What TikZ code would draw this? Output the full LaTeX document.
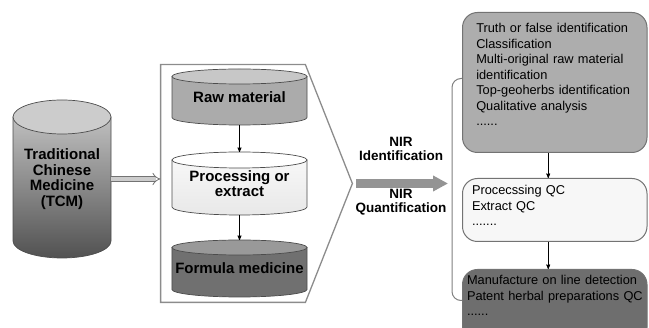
\documentclass[tikz,border=0pt]{standalone}
\usepackage{fontspec}
\setmainfont{Liberation Sans}
\usetikzlibrary{arrows,arrows.meta,calc,positioning,backgrounds}

% drum drawn round a named node: name, cap radius, body options, cap options
\newcommand{\drum}[4]{%
  \path[drum line,#3] let \p1=(#1.north west),\p2=(#1.south east),\n1={(\x2-\x1)/2} in
    (\x1,\y1-#2) -- (\x1,\y2+#2)
    arc[start angle=180,end angle=360,x radius={\n1*1pt},y radius=#2]
    -- (\x2,\y1-#2) -- cycle;
  \path[drum line,#4] let \p1=(#1.north west),\p2=(#1.south east),\n1={(\x2-\x1)/2} in
    (\x1+\n1,\y1-#2) ellipse[x radius={\n1*1pt},y radius=#2];
}

\begin{document}
\begin{tikzpicture}[x=1pt,y=-1pt,>=stealth',thick,
  drum line/.style={draw=black!70,line width=0.7pt},
  drum node/.style={rectangle,outer sep=0pt,minimum width=135,minimum height=56,
    font=\fontsize{15}{15.5}\selectfont\bfseries,align=center},
  box node/.style={rectangle,rounded corners=15pt,draw=black!55,line width=1pt,
    minimum width=184.5,inner ysep=0pt,align=left,
    font=\fontsize{12.8}{15.5}\selectfont}]
\useasboundingbox (0,0) rectangle (649,328);
\clip (0,0) rectangle (649,328);

\node[drum node,minimum width=98,minimum height=158] (tcm) at (62,179) {Traditional\\Chinese\\Medicine\\(TCM)};

\node[minimum width=144,minimum height=237] (stage) at (233,183.5) {};
\coordinate (tip) at ([xshift=47pt]stage.east);
\draw[black!45,line width=1.3pt] (stage.north west) -- (stage.north east) -- (tip)
  -- (stage.south east) -- (stage.south west) -- cycle;

\node[drum node,anchor=north] (raw) at (239.5,69) {Raw material};
\node[drum node,minimum height=63] (proc) [below=27pt of raw] {Processing or\\extract};
\node[drum node,minimum height=57] (form) [below=25pt of proc] {Formula medicine};

\begin{scope}[on background layer]
\drum{tcm}{17pt}{top color=black!25,bottom color=black!68}{fill=black!20}
\drum{raw}{7.5pt}{fill=black!33}{fill=black!22}
\drum{proc}{8pt}{top color=black!3,bottom color=black!9}{fill=white}
\drum{form}{7.5pt}{fill=black!56}{fill=black!40}
\end{scope}

\draw[->,line width=0.7pt] (raw) -- (proc);
\draw[->,line width=0.7pt] (proc) -- (form);
\draw[-{Implies},double=black!20,draw=black!55,line width=0.8pt,double distance=3.5pt]
  (tcm.east) -- (tcm.east -| stage.west);

\node[box node,fill=black!32,text width=157,inner xsep=13.75pt,text height=20.5,text depth=119.5,anchor=north]
  (top) at (554.75,12) {Truth or false identification\\Classification\\Multi-original raw material\\identification\\Top-geoherbs identification\\Qualitative analysis\\......};
\node[box node,fill=black!3,text width=165.5,inner xsep=9.5pt,text height=16.5,text depth=46.5]
  (mid) [below=25pt of top] {Procecssing QC\\Extract QC\\.......};
\node[box node,fill=black!57,text width=175.5,inner xsep=4.5pt,text height=15.5,text depth=57.5]
  (bot) [below=27pt of mid] {Manufacture on line detection\\\mbox{Patent herbal preparations QC}\\......};

\draw[->,line width=0.7pt] ([xshift=-6.5pt]top.south) -- ([xshift=-6.5pt]mid.north);
\draw[->,line width=0.7pt] ([xshift=-6.5pt]mid.south) -- ([xshift=-6.5pt]bot.north);
\draw[black!50,line width=1pt,rounded corners=9pt] ([yshift=4pt]top.west) -- ++(-10,0) |- ([yshift=5.5pt]bot.west);

\draw[-{Triangle[length=15pt,width=15pt]},line width=9pt,draw=black!42]
  ([xshift=4pt]tip) -- ([xshift=-14pt]tip -| top.west);
\node[font=\fontsize{13.5}{14.5}\selectfont\bfseries,align=center] (nirid) at (401,149) {NIR\\Identification};
\node[font=\fontsize{13.5}{14.5}\selectfont\bfseries,align=center] (nirq) at (401,202) {NIR\\Quantification};
\end{tikzpicture}
\end{document}
